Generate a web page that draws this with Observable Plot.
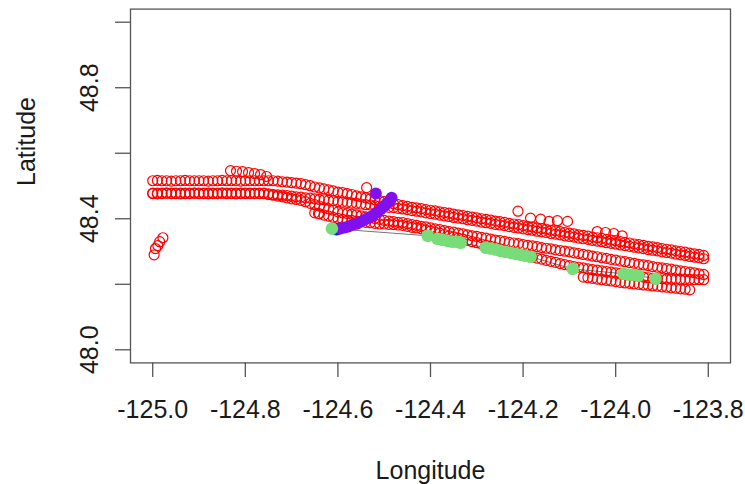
<!DOCTYPE html>
<html>
<head>
<meta charset="utf-8">
<script src="https://cdn.jsdelivr.net/npm/d3@7"></script>
<script src="https://cdn.jsdelivr.net/npm/@observablehq/plot@0.6"></script>
<style>
  html, body { margin: 0; padding: 0; background: #ffffff; }
  #chart { width: 745px; height: 484px; }
</style>
</head>
<body>
<div id="chart"></div>
<script>
// ---- axis ticks ----
const xTicks = [-125.0, -124.8, -124.6, -124.4, -124.2, -124.0, -123.8];
const yTicks = [48.0, 48.2, 48.4, 48.6, 48.8, 49.0];
const yLabelTicks = [48.0, 48.4, 48.8];

// ---- red open circles: vessel tracks (longitude grid shared by three tracks) ----
const lonGrid = [
  -125.00,-124.99,-124.98,-124.97,-124.96,-124.95,-124.94,-124.93,-124.92,-124.91,
  -124.90,-124.89,-124.88,-124.87,-124.86,-124.85,-124.84,-124.83,-124.82,-124.81,
  -124.80,-124.79,-124.78,-124.77,-124.76,-124.75,-124.74,-124.73,-124.72,-124.71,
  -124.70,-124.69,-124.68,-124.67,-124.66,-124.65,-124.64,-124.63,-124.62,-124.61,
  -124.60,-124.59,-124.58,-124.57,-124.56,-124.55,-124.54,-124.53,-124.52,-124.51,
  -124.50,-124.49,-124.48,-124.47,-124.46,-124.45,-124.44,-124.43,-124.42,-124.41,
  -124.40,-124.39,-124.38,-124.37,-124.36,-124.35,-124.34,-124.33,-124.32,-124.31,
  -124.30,-124.29,-124.28,-124.27,-124.26,-124.25,-124.24,-124.23,-124.22,-124.21,
  -124.20,-124.19,-124.18,-124.17,-124.16,-124.15,-124.14,-124.13,-124.12,-124.11,
  -124.10,-124.09,-124.08,-124.07,-124.06,-124.05,-124.04,-124.03,-124.02,-124.01,
  -124.00,-123.99,-123.98,-123.97,-123.96,-123.95,-123.94,-123.93,-123.92,-123.91,
  -123.90,-123.89,-123.88,-123.87,-123.86,-123.85,-123.84,-123.83,-123.82,-123.81
];
const track1Lat = [
  48.516,48.517,48.516,48.516,48.515,48.516,48.516,48.517,48.516,48.516,
  48.516,48.516,48.515,48.516,48.516,48.517,48.516,48.516,48.516,48.515,
  48.516,48.516,48.516,48.516,48.516,48.516,48.516,48.515,48.513,48.512,
  48.510,48.509,48.507,48.504,48.501,48.497,48.494,48.491,48.488,48.485,
  48.481,48.480,48.477,48.474,48.470,48.467,48.464,48.461,48.458,48.455,
  48.452,48.449,48.446,48.443,48.440,48.438,48.435,48.433,48.431,48.428,
  48.426,48.424,48.421,48.419,48.417,48.414,48.412,48.410,48.407,48.405,
  48.403,48.400,48.398,48.396,48.393,48.391,48.389,48.386,48.384,48.382,
  48.379,48.377,48.375,48.372,48.370,48.368,48.365,48.363,48.361,48.358,
  48.356,48.354,48.351,48.349,48.347,48.344,48.342,48.340,48.337,48.335,
  48.333,48.330,48.328,48.326,48.323,48.321,48.319,48.316,48.314,48.312,
  48.309,48.307,48.305,48.302,48.300,48.298,48.295,48.293,48.291,48.288
];
const track2Lat = [
  48.477,48.476,48.477,48.478,48.477,48.477,48.476,48.477,48.477,48.478,
  48.477,48.477,48.476,48.477,48.477,48.478,48.477,48.477,48.476,48.477,
  48.477,48.477,48.477,48.477,48.477,48.476,48.474,48.473,48.472,48.471,
  48.469,48.467,48.466,48.464,48.463,48.461,48.459,48.458,48.456,48.455,
  48.453,48.451,48.450,48.448,48.447,48.445,48.443,48.442,48.440,48.439,
  48.437,48.435,48.434,48.432,48.430,48.428,48.425,48.423,48.421,48.418,
  48.416,48.414,48.411,48.409,48.407,48.404,48.402,48.400,48.397,48.395,
  48.393,48.390,48.388,48.386,48.383,48.381,48.379,48.376,48.374,48.372,
  48.369,48.367,48.365,48.362,48.360,48.358,48.355,48.353,48.351,48.348,
  48.346,48.344,48.341,48.339,48.337,48.334,48.332,48.330,48.327,48.325,
  48.323,48.320,48.318,48.316,48.313,48.311,48.309,48.306,48.304,48.302,
  48.299,48.297,48.295,48.292,48.290,48.288,48.285,48.283,48.281,48.278
];
const track3Lat = [
  48.478,48.478,48.478,48.478,48.478,48.478,48.478,48.478,48.478,48.478,
  48.478,48.478,48.478,48.478,48.478,48.478,48.478,48.478,48.478,48.478,
  48.478,48.478,48.478,48.478,48.478,48.474,48.472,48.469,48.467,48.464,
  48.461,48.459,48.456,48.452,48.447,48.443,48.439,48.434,48.430,48.426,
  48.421,48.418,48.416,48.414,48.412,48.409,48.406,48.403,48.401,48.398,
  48.395,48.393,48.391,48.389,48.388,48.385,48.382,48.380,48.377,48.375,
  48.372,48.369,48.367,48.364,48.361,48.359,48.356,48.354,48.351,48.348,
  48.346,48.343,48.341,48.338,48.335,48.333,48.331,48.328,48.326,48.324,
  48.321,48.319,48.317,48.315,48.312,48.310,48.308,48.305,48.303,48.301,
  48.299,48.296,48.294,48.291,48.289,48.286,48.284,48.281,48.279,48.276,
  48.274,48.271,48.269,48.266,48.264,48.261,48.259,48.257,48.254,48.252,
  48.250,48.248,48.246,48.243,48.241,48.239,48.237,48.235,48.232,48.230
];
const track4Lon = [
  -124.65,-124.64,-124.63,-124.62,-124.61,
  -124.60,-124.59,-124.58,-124.57,-124.56,-124.55,-124.54,-124.53,-124.52,-124.51,
  -124.50,-124.49,-124.48,-124.47,-124.46,-124.45,-124.44,-124.43,-124.42,-124.41,
  -124.40,-124.39,-124.38,-124.37,-124.36,-124.35,-124.34,-124.33,-124.32,-124.31,
  -124.30,-124.29,-124.28,-124.27,-124.26,-124.25,-124.24,-124.23,-124.22,-124.21,
  -124.20,-124.19,-124.18,-124.17,-124.16,-124.15,-124.14,-124.13,-124.12,-124.11,
  -124.10,-124.09,-124.08,-124.07,-124.06,-124.05,-124.04,-124.03,-124.02,-124.01,
  -124.00,-123.99,-123.98,-123.97,-123.96,-123.95,-123.94,-123.93,-123.92,-123.91,
  -123.90,-123.89,-123.88,-123.87,-123.86,-123.85,-123.84,-123.83,-123.82,-123.81
];
const track4Lat = [
  48.418,48.415,48.411,48.408,48.404,
  48.401,48.398,48.396,48.395,48.393,48.391,48.389,48.388,48.386,48.384,
  48.384,48.383,48.382,48.381,48.380,48.377,48.374,48.372,48.369,48.366,
  48.363,48.359,48.356,48.352,48.348,48.345,48.341,48.338,48.334,48.330,
  48.327,48.323,48.319,48.316,48.312,48.308,48.303,48.300,48.297,48.293,
  48.290,48.287,48.283,48.280,48.277,48.273,48.270,48.267,48.263,48.260,
  48.257,48.254,48.252,48.250,48.247,48.245,48.243,48.241,48.239,48.237,
  48.235,48.233,48.231,48.229,48.227,48.225,48.222,48.220,48.218,48.217,
  48.217,48.216,48.216,48.216,48.215,48.215,48.215,48.214,48.214,48.214
];
const track5Lon = [
  -124.07,-124.06,-124.05,-124.04,-124.03,-124.02,-124.01,-124.00,
  -123.99,-123.98,-123.97,-123.96,-123.95,-123.94,-123.93,-123.92,
  -123.91,-123.90,-123.89,-123.88,-123.87,-123.86,-123.85,-123.84
];
const track5Lat = [
  48.222,48.220,48.218,48.216,48.214,48.212,48.210,48.208,
  48.206,48.204,48.203,48.201,48.200,48.198,48.197,48.195,
  48.194,48.192,48.191,48.189,48.188,48.186,48.185,48.183
];
const bumpLon = [-124.832,-124.819,-124.806,-124.793,-124.780,-124.767,-124.754];
const bumpLat = [48.547,48.545,48.544,48.541,48.538,48.535,48.529];
const strayLon = [-124.538,-124.642,-124.211,-124.184,-124.162,-124.144,-124.126,-124.104,-124.040,-124.022,-124.004,-123.986];
const strayLat = [48.495,48.416,48.423,48.402,48.399,48.392,48.394,48.392,48.361,48.358,48.355,48.348];
const clusterLon = [-124.997,-124.994,-124.989,-124.985,-124.978];
const clusterLat = [48.290,48.309,48.318,48.330,48.342];

// ---- filled points ----
const blueLon = [-124.603,-124.597];
const blueLat = [48.367,48.370];
const purpleLon = [-124.594,-124.585,-124.577,-124.568,-124.559,-124.551,-124.542,-124.534,-124.525,-124.516,-124.508,-124.501,-124.495,-124.488,-124.484,-124.518];
const purpleLat = [48.370,48.373,48.376,48.382,48.385,48.391,48.397,48.403,48.409,48.419,48.428,48.437,48.446,48.455,48.464,48.477];
const greenLon = [-124.613,-124.406,-124.385,-124.374,-124.363,-124.352,-124.341,-124.335,-124.281,-124.270,-124.259,-124.249,-124.238,-124.227,-124.216,-124.205,-124.195,-124.184,-124.093,-123.983,-123.972,-123.961,-123.951,-123.914];
const greenLat = [48.370,48.348,48.339,48.336,48.333,48.330,48.330,48.327,48.312,48.309,48.306,48.302,48.299,48.296,48.293,48.290,48.287,48.284,48.247,48.232,48.229,48.229,48.226,48.217];

// ---- build tables ----
const pairs = (xs, ys) => xs.map((x, i) => ({lon: x, lat: ys[i]}));
const red = [
  ...pairs(lonGrid, track1Lat), ...pairs(lonGrid, track2Lat), ...pairs(lonGrid, track3Lat),
  ...pairs(track4Lon, track4Lat), ...pairs(track5Lon, track5Lat),
  ...pairs(bumpLon, bumpLat), ...pairs(strayLon, strayLat), ...pairs(clusterLon, clusterLat)
];
const blue = pairs(blueLon, blueLat);
const purple = pairs(purpleLon, purpleLat);
const green = pairs(greenLon, greenLat);

const FONT = "'Liberation Sans', Arial, Helvetica, sans-serif";
const chart = Plot.plot({
  width: 745,
  height: 484,
  marginLeft: 130,
  marginRight: 15,
  marginTop: 8.6,
  marginBottom: 121.6,
  x: {domain: [-125.048, -123.752]},
  y: {domain: [47.96, 49.04]},
  style: {fontFamily: FONT, fontSize: "25px", color: "#1a1a1a", background: "#ffffff"},
  marks: [
    Plot.dot(red, {x: "lon", y: "lat", r: 5, stroke: "#ff0000", strokeWidth: 1.2, fill: "none"}),
    Plot.line(green, {x: "lon", y: "lat", stroke: "#3a3a3a", strokeOpacity: 0.7, strokeWidth: 1}),
    Plot.dot(blue, {x: "lon", y: "lat", r: 6, fill: "#1818ff"}),
    Plot.dot(purple, {x: "lon", y: "lat", r: 6, fill: "#8010ee"}),
    Plot.dot(green, {x: "lon", y: "lat", r: 6.3, fill: "#78dc78"}),
    Plot.frame({stroke: "#555555", strokeWidth: 1.3}),
    Plot.axisX(xTicks, {anchor: "bottom", tickSize: 14.6, tickPadding: 23, tickFormat: d => d.toFixed(1),
      fontSize: 25, label: null, stroke: "#555555", strokeWidth: 1.3}),
    Plot.axisY(yTicks, {anchor: "left", tickSize: 15, tickPadding: 18, tickRotate: -90,
      tickFormat: d => (yLabelTicks.includes(d) ? d.toFixed(1) : ""),
      fontSize: 25, label: null, stroke: "#555555", strokeWidth: 1.3}),
    Plot.text(["Longitude"], {text: d => d, frameAnchor: "bottom", dy: 115.6, lineAnchor: "bottom", fontSize: 25}),
    Plot.text(["Latitude"], {text: d => d, frameAnchor: "left", dx: -96, rotate: -90, lineAnchor: "bottom", fontSize: 25})
  ]
});
document.getElementById("chart").appendChild(chart);
</script>
</body>
</html>
